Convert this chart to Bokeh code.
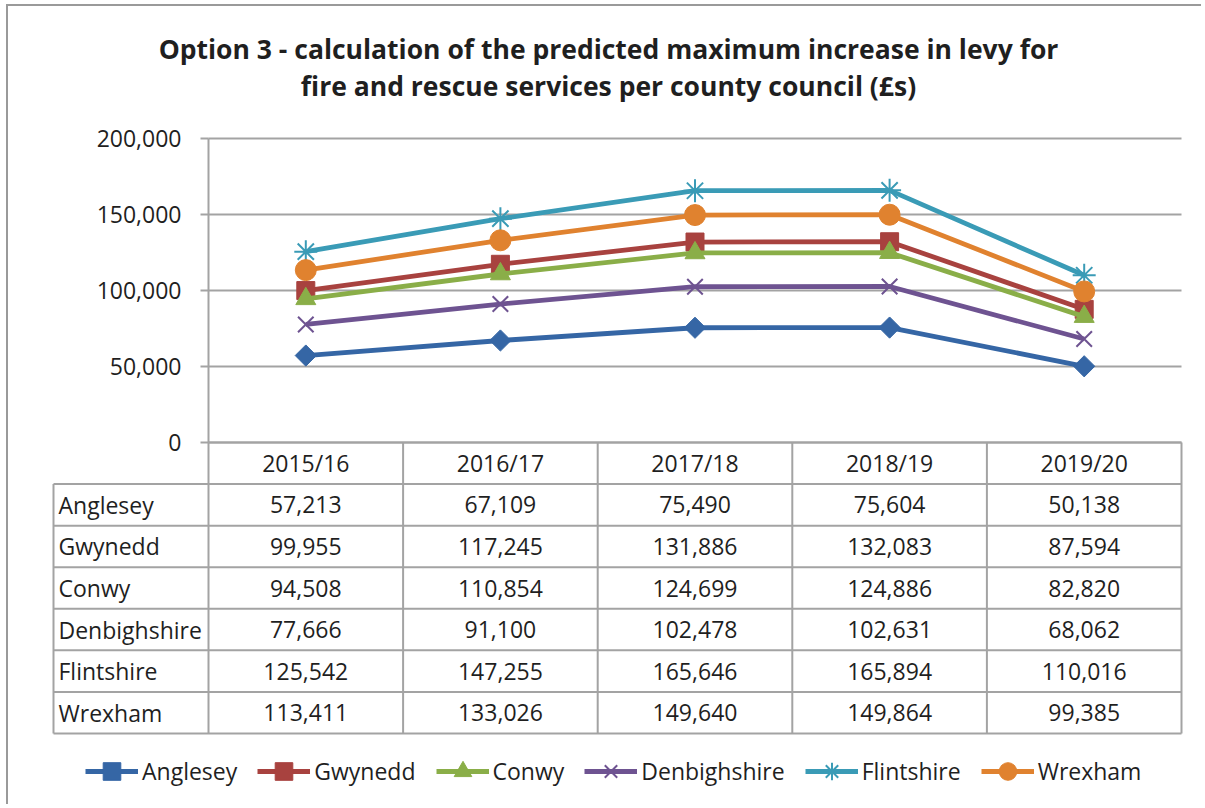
from bokeh.plotting import figure
from bokeh.models import (Range1d, FixedTicker, NumeralTickFormatter, Legend,
                          LegendItem, LinearAxis)
from bokeh.core.properties import value
from bokeh.embed import file_html
from bokeh.resources import INLINE
import numpy as np

# ---------------- data ----------------
years = ["2015/16", "2016/17", "2017/18", "2018/19", "2019/20"]
councils = ["Anglesey", "Gwynedd", "Conwy", "Denbighshire", "Flintshire", "Wrexham"]
anglesey = [57213, 67109, 75490, 75604, 50138]
gwynedd = [99955, 117245, 131886, 132083, 87594]
conwy = [94508, 110854, 124699, 124886, 82820]
denbighshire = [77666, 91100, 102478, 102631, 68062]
flintshire = [125542, 147255, 165646, 165894, 110016]
wrexham = [113411, 133026, 149640, 149864, 99385]
y_ticks = [0, 50000, 100000, 150000, 200000]
title_lines = ["Option 3 - calculation of the predicted maximum increase in levy for",
               "fire and rescue services per county council (£s)"]

series = [anglesey, gwynedd, conwy, denbighshire, flintshire, wrexham]

# ---------------- styles / layout constants (page pixels) ----------------
FONT = "Open Sans"
TXT = "#1f1f1f"
GRID = "#a3a3a3"
colors = ["#3566A5", "#A8423F", "#8AAE48", "#6E5391", "#3A9BB6", "#E0822F"]
markers = ["square", "square", "triangle", "x", "asterisk", "circle"]
angles = [np.pi / 4, 0, 0, 0, 0, 0]
sizes = [15, 18, 20, 22, 23, 21]
mline = [1, 1, 1, 2, 2, 1]

W, H = 1195, 800             # canvas size
OX, OY = 8, 6                # canvas origin on the page
TABLE_L, PLOT_L, PLOT_R = 53, 208, 1181
PLOT_TOP, ZERO_Y, TABLE_BOT = 138, 442, 733
YMAX = 200000
TITLE_X, TITLE_Y = 608, [48, 85]
LEGEND_X, LEGEND_BOTTOM = 85, 793

n = len(years)
nrows = len(councils) + 1
col_px = (PLOT_R - PLOT_L) / n
lbl_units = (PLOT_L - TABLE_L) / col_px
val_per_px = YMAX / (ZERO_Y - PLOT_TOP)
row_px = (TABLE_BOT - ZERO_Y) / nrows

xs = [i + 0.5 for i in range(n)]

p = figure(width=W, height=H,
           x_range=Range1d(-(PLOT_L - OX) / col_px, n + (OX + W - PLOT_R) / col_px),
           y_range=Range1d(-(OY + H - ZERO_Y) * val_per_px, YMAX + (PLOT_TOP - OY) * val_per_px),
           output_backend="svg", toolbar_location=None,
           x_axis_location=None, y_axis_location=None,
           min_border_left=0, min_border_right=0, min_border_top=0, min_border_bottom=0,
           outline_line_color=None, background_fill_color="white",
           border_fill_color="white",
           styles={"margin-left": "6px", "margin-top": "4px",
                   "border-left": "2px solid #9a9a9a", "border-top": "2px solid #9a9a9a"})
p.xgrid.visible = False
p.ygrid.visible = False
p.extra_y_ranges = {
    "table": Range1d((OY + H - ZERO_Y) / row_px, -(ZERO_Y - OY) / row_px),
    "page": Range1d(OY + H, OY),
}
p.extra_x_ranges = {"page": Range1d(OX, OX + W)}

# horizontal gridlines of the chart
p.segment(x0=[0] * len(y_ticks), y0=y_ticks, x1=[n] * len(y_ticks), y1=y_ticks,
          line_color=GRID, line_width=2)

# y axis drawn at the left edge of the plotting area
ax = LinearAxis(fixed_location=0, bounds=(0, YMAX))
ax.ticker = FixedTicker(ticks=y_ticks)
ax.formatter = NumeralTickFormatter(format="0,0")
ax.major_label_text_font = FONT
ax.major_label_text_font_size = "23px"
ax.major_label_text_color = TXT
ax.axis_line_color = GRID
ax.axis_line_width = 2
ax.major_tick_line_color = GRID
ax.major_tick_line_width = 2
ax.major_tick_out = 8
ax.major_tick_in = 0
ax.minor_tick_out = 0
ax.minor_tick_in = 0
ax.major_label_standoff = 19
p.add_layout(ax, "left")

# series
items = []
for i, (name, vals) in enumerate(zip(councils, series)):
    lr = p.line(xs, vals, line_color=colors[i], line_width=4.8)
    sr = p.scatter(xs, vals, marker=markers[i], size=sizes[i], angle=angles[i],
                   fill_color=colors[i], line_color=colors[i], line_width=mline[i])
    items.append(LegendItem(label=name, renderers=[lr, sr]))

# ---------------- data table ----------------
hx0 = [0] + [-lbl_units] * nrows
hx1 = [n] * (nrows + 1)
hy = list(range(nrows + 1))
p.segment(x0=hx0, y0=hy, x1=hx1, y1=hy, line_color=GRID, line_width=2, y_range_name="table")
vx = list(range(n + 1)) + [-lbl_units]
vy0 = [0] * (n + 1) + [1]
vy1 = [nrows] * (n + 2)
p.segment(x0=vx, y0=vy0, x1=vx, y1=vy1, line_color=GRID, line_width=2, y_range_name="table")

p.text(x=xs, y=[0.5] * n, text=years, text_align="center", text_baseline="middle",
       text_font=value(FONT), text_font_size="23px", text_color=TXT, y_range_name="table")
p.text(x=[-lbl_units] * len(councils), y=[r + 1.5 for r in range(len(councils))],
       text=councils, text_align="left", text_baseline="middle", x_offset=5,
       text_font=value(FONT), text_font_size="23px", text_color=TXT, y_range_name="table")
tx, ty, tt = [], [], []
for r, vals in enumerate(series):
    for c, v in enumerate(vals):
        tx.append(c + 0.5)
        ty.append(r + 1.5)
        tt.append(f"{v:,}")
p.text(x=tx, y=ty, text=tt, text_align="center", text_baseline="middle",
       text_font=value(FONT), text_font_size="23px", text_color=TXT, y_range_name="table")

# ---------------- title ----------------
p.text(x=[TITLE_X] * len(title_lines), y=TITLE_Y, text=title_lines,
       text_align="center", text_baseline="middle", text_font=value(FONT),
       text_font_size="26.5px", text_font_style="bold", text_color=TXT,
       x_range_name="page", y_range_name="page")

# ---------------- legend ----------------
legend = Legend(items=items, orientation="horizontal",
                location=(LEGEND_X - OX, OY + H - LEGEND_BOTTOM),
                glyph_width=53, glyph_height=44, label_text_font=FONT,
                label_text_font_size="23px", label_text_color=TXT, spacing=20,
                label_standoff=4, border_line_color=None, background_fill_alpha=0,
                padding=0, margin=0)
p.add_layout(legend)

open("out.html", "w").write(file_html(p, INLINE))
